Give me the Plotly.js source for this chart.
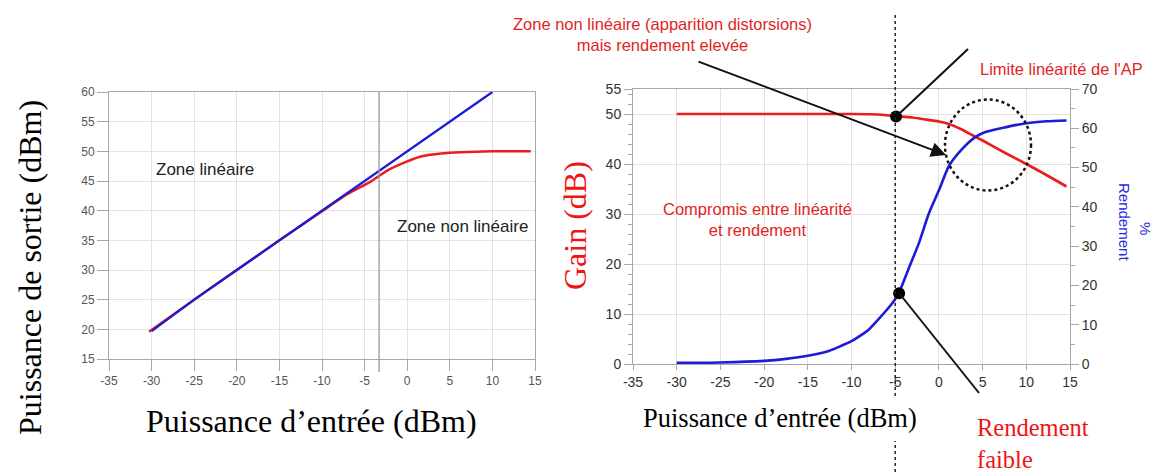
<!DOCTYPE html>
<html>
<head>
<meta charset="utf-8">
<script src="https://cdn.plot.ly/plotly-3.0.1.min.js"></script>
<style>
  html, body { margin: 0; padding: 0; background: #fff; }
  #chart { width: 1153px; height: 472px; }
</style>
</head>
<body>
<div id="chart"></div>
<script>
// ---------- DATA ----------
// Left chart: output power vs input power
const inPowerLinear  = [-30, -25, -20, -15, -10, -5, 0, 5, 10];
const outPowerLinear = [19.7, 25, 30, 35, 40, 45, 50, 55, 60];
const inPowerReal    = [-30.3, -25, -20, -15, -10, -7, -4.3, -2.3, 0, 1.5, 3, 5, 8, 10, 12, 14.5];
const outPowerReal   = [19.6, 25, 30, 35, 39.9, 42.8, 44.9, 46.8, 48.3, 49.1, 49.45, 49.75, 49.95, 50, 50, 50];
const linearityLimitLeft = -3.3;

// Right chart: gain and efficiency vs input power
const gainInput = [-30, -20, -10, -7, -5, -3, -1.9, 0, 1.15, 2.5, 3.8, 5, 7.7, 10, 12, 14.6];
const gainDb    = [50, 50, 50, 49.9, 49.6, 49.3, 49.0, 48.5, 48.0, 47.0, 45.8, 44.7, 42.1, 40.0, 38.1, 35.5];
const effInput  = [-30, -25, -20, -17.5, -15, -12.5, -11.5, -10, -9.2, -8, -6.9, -5.5, -4.6, -3.4, -2.3, -1.15, 0, 1.15, 2.7, 4.2, 5.4, 7.7, 10, 12.3, 14.6];
const effPct    = [0.3, 0.4, 0.8, 1.3, 2.1, 3.4, 4.3, 5.8, 6.9, 8.8, 11.4, 15.0, 18.0, 24.6, 30.7, 38.3, 44.2, 50.4, 54.8, 57.8, 59.1, 60.3, 61.3, 61.8, 62.0];
const markerGainX = [-4.9];
const markerGainY = [49.5];
const markerEffX  = [-4.55];
const markerEffY  = [18.0];
const linearityLimitRight = -5;

// Tick labels
const xTicks      = [-35, -30, -25, -20, -15, -10, -5, 0, 5, 10, 15];
const xTickText   = ['-35', '-30', '-25', '-20', '-15', '-10', '-5', '0', '5', '10', '15'];
const leftYTicks  = [15, 20, 25, 30, 35, 40, 45, 50, 55, 60];
const gainTicks   = [0, 10, 20, 30, 40, 50, 55];
const effTicks    = [0, 10, 20, 30, 40, 50, 60, 70];

// ---------- HELPERS (pixel -> paper) ----------
const W = 1153, H = 472;
const px = v => v / W;
const py = v => 1 - v / H;

const SANS = 'Liberation Sans, Arial, sans-serif';
const SERIF = 'Liberation Serif, Times New Roman, serif';
const RED = 'rgb(235,28,28)';
const BLUE = 'rgb(28,28,215)';
const TXTRED = 'rgb(226,36,36)';

const traces = [
  { x: inPowerReal, y: outPowerReal, xaxis: 'x', yaxis: 'y', mode: 'lines',
    line: { color: RED, width: 2.5, shape: 'spline', smoothing: 0.5 }, hoverinfo: 'skip' },
  { x: inPowerLinear, y: outPowerLinear, xaxis: 'x', yaxis: 'y', mode: 'lines',
    line: { color: BLUE, width: 2.3 }, hoverinfo: 'skip' },
  { x: gainInput, y: gainDb, xaxis: 'x2', yaxis: 'y2', mode: 'lines',
    line: { color: RED, width: 2.6, shape: 'spline', smoothing: 0.6 }, hoverinfo: 'skip' },
  { x: effInput, y: effPct, xaxis: 'x2', yaxis: 'y3', mode: 'lines',
    line: { color: BLUE, width: 2.6, shape: 'spline', smoothing: 0.6 }, hoverinfo: 'skip' },
  { x: markerGainX, y: markerGainY, xaxis: 'x2', yaxis: 'y2', mode: 'markers',
    marker: { color: '#000', size: 12 }, hoverinfo: 'skip' },
  { x: markerEffX, y: markerEffY, xaxis: 'x2', yaxis: 'y3', mode: 'markers',
    marker: { color: '#000', size: 12 }, hoverinfo: 'skip' }
];

const gridCol = '#e2e2e2';
const axCol = '#a8a8a8';

const layout = {
  width: W, height: H, autosize: false,
  margin: { l: 0, r: 0, t: 0, b: 0, pad: 0 },
  paper_bgcolor: '#fff', plot_bgcolor: '#fff',
  showlegend: false,
  xaxis: {
    domain: [px(109), px(535)], anchor: 'y', range: [-35, 15],
    tickvals: xTicks, ticktext: xTickText, showgrid: true, gridcolor: gridCol, gridwidth: 1,
    showline: true, linecolor: axCol, linewidth: 1, mirror: true,
    ticks: 'outside', ticklen: 11, tickcolor: axCol, zeroline: false,
    tickfont: { family: SANS, size: 12, color: '#555' }
  },
  yaxis: {
    domain: [py(359), py(92)], anchor: 'x', range: [15, 60],
    tickvals: leftYTicks, showgrid: true, gridcolor: gridCol,
    showline: true, linecolor: axCol, mirror: true,
    ticks: 'outside', ticklen: 11, tickcolor: axCol, zeroline: false,
    tickfont: { family: SANS, size: 12, color: '#555' }
  },
  xaxis2: {
    domain: [px(633), px(1070)], anchor: 'y2', range: [-35, 15],
    tickvals: xTicks, ticktext: xTickText, showgrid: true, gridcolor: gridCol,
    showline: true, linecolor: axCol, mirror: true,
    ticks: 'outside', ticklen: 5, tickcolor: axCol, zeroline: false,
    tickfont: { family: SANS, size: 14, color: '#333' }
  },
  yaxis2: {
    domain: [py(364), py(89)], anchor: 'x2', range: [0, 55],
    tickvals: gainTicks, showgrid: true, gridcolor: gridCol,
    showline: true, linecolor: axCol,
    ticks: 'outside', ticklen: 8, tickcolor: axCol, zeroline: false,
    minor: { ticks: 'outside', ticklen: 4, dtick: 2, tick0: 0, tickcolor: axCol, showgrid: false },
    tickfont: { family: SANS, size: 14, color: '#333' }
  },
  yaxis3: {
    overlaying: 'y2', side: 'right', anchor: 'x2', range: [0, 70],
    tickvals: effTicks, showgrid: false,
    showline: true, linecolor: axCol,
    ticks: 'outside', ticklen: 8, tickcolor: axCol, zeroline: false,
    minor: { ticks: 'outside', ticklen: 4, dtick: 5, tick0: 0, tickcolor: axCol, showgrid: false },
    tickfont: { family: SANS, size: 14, color: '#333' }
  },
  shapes: [
    { type: 'line', xref: 'x', yref: 'paper', x0: linearityLimitLeft, x1: linearityLimitLeft,
      y0: py(372), y1: py(92), line: { color: '#9a9a9a', width: 1.3 } },
    { type: 'line', xref: 'x2', yref: 'paper', x0: linearityLimitRight, x1: linearityLimitRight,
      y0: py(396), y1: py(12), line: { color: '#222', width: 1.5, dash: 'dot' } },
    { type: 'line', xref: 'x2', yref: 'paper', x0: linearityLimitRight, x1: linearityLimitRight,
      y0: py(472), y1: py(441), line: { color: '#222', width: 1.5, dash: 'dot' } },
    { type: 'circle', xref: 'paper', yref: 'paper', x0: px(945), x1: px(1031),
      y0: py(190.5), y1: py(99.5), line: { color: '#111', width: 2.5, dash: 'dot' } },
    { type: 'line', xref: 'paper', yref: 'paper', x0: px(896), y0: py(116.7), x1: px(968), y1: py(49),
      line: { color: '#111', width: 2 } },
    { type: 'line', xref: 'paper', yref: 'paper', x0: px(899), y0: py(293), x1: px(979), y1: py(393),
      line: { color: '#111', width: 2 } }
  ],
  annotations: [
    { xref: 'paper', yref: 'paper', x: px(946), y: py(155), ax: 697 - 946, ay: 61 - 155,
      axref: 'pixel', ayref: 'pixel', text: '', showarrow: true, arrowhead: 2, arrowsize: 1.5,
      arrowwidth: 2, arrowcolor: '#111' },
    { xref: 'paper', yref: 'paper', x: px(311), y: py(421), text: 'Puissance d’entrée (dBm)',
      showarrow: false, xanchor: 'center', yanchor: 'middle', font: { family: SERIF, size: 32, color: '#000' } },
    { xref: 'paper', yref: 'paper', x: px(30), y: py(268), text: 'Puissance de sortie (dBm)', textangle: -90,
      showarrow: false, xanchor: 'center', yanchor: 'middle', font: { family: SERIF, size: 32, color: '#000' } },
    { xref: 'paper', yref: 'paper', x: px(779.5), y: py(418), text: 'Puissance d’entrée (dBm)',
      showarrow: false, xanchor: 'center', yanchor: 'middle', font: { family: SERIF, size: 26.5, color: '#000' } },
    { xref: 'paper', yref: 'paper', x: px(575), y: py(226), text: 'Gain (dB)', textangle: -90,
      showarrow: false, xanchor: 'center', yanchor: 'middle', font: { family: SERIF, size: 32, color: 'rgb(240,20,20)' } },
    { xref: 'paper', yref: 'paper', x: px(1125), y: py(222), text: 'Rendement', textangle: 90,
      showarrow: false, xanchor: 'center', yanchor: 'middle', font: { family: SANS, size: 15, color: 'rgb(40,40,220)' } },
    { xref: 'paper', yref: 'paper', x: px(1146), y: py(228), text: '%', textangle: 90,
      showarrow: false, xanchor: 'center', yanchor: 'middle', font: { family: SANS, size: 15, color: 'rgb(40,40,220)' } },
    { xref: 'paper', yref: 'paper', x: px(205), y: py(170), text: 'Zone linéaire',
      showarrow: false, xanchor: 'center', yanchor: 'middle', font: { family: SANS, size: 17, color: '#222' } },
    { xref: 'paper', yref: 'paper', x: px(462.5), y: py(227), text: 'Zone non linéaire',
      showarrow: false, xanchor: 'center', yanchor: 'middle', font: { family: SANS, size: 17, color: '#222' } },
    { xref: 'paper', yref: 'paper', x: px(662), y: py(34), text: 'Zone non linéaire (apparition distorsions)<br>mais rendement elevée',
      showarrow: false, xanchor: 'center', yanchor: 'middle', align: 'center',
      font: { family: SANS, size: 16.5, color: TXTRED } },
    { xref: 'paper', yref: 'paper', x: px(1061), y: py(69), text: "Limite linéarité de l'AP",
      showarrow: false, xanchor: 'center', yanchor: 'middle', font: { family: SANS, size: 16.5, color: TXTRED } },
    { xref: 'paper', yref: 'paper', x: px(757), y: py(219.5), text: 'Compromis entre linéarité<br>et rendement',
      showarrow: false, xanchor: 'center', yanchor: 'middle', align: 'center',
      font: { family: SANS, size: 16.5, color: TXTRED } },
    { xref: 'paper', yref: 'paper', x: px(975), y: py(443), text: 'Rendement<br>faible',
      showarrow: false, xanchor: 'left', yanchor: 'middle', align: 'left',
      font: { family: SERIF, size: 24.5, color: 'rgb(240,20,20)' } }
  ]
};

Plotly.newPlot('chart', traces, layout, { staticPlot: true, displayModeBar: false });
</script>
</body>
</html>
